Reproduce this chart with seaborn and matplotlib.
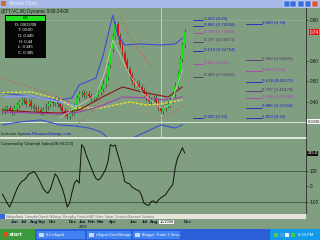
import matplotlib
matplotlib.use("Agg")
import matplotlib.pyplot as plt
from matplotlib.patches import Rectangle
import pandas as pd
import seaborn as sns

# ---------------- data ----------------
closes = [0.355, 0.365, 0.372, 0.36, 0.352, 0.37, 0.385, 0.40, 0.41, 0.405,
          0.39, 0.40, 0.38, 0.372, 0.365, 0.36, 0.352, 0.36, 0.378, 0.39,
          0.40, 0.395, 0.41, 0.39, 0.375, 0.355, 0.34, 0.33, 0.345, 0.35,
          0.38, 0.42, 0.44, 0.445, 0.435, 0.44, 0.43, 0.42, 0.425, 0.44,
          0.45, 0.465, 0.49, 0.52, 0.58, 0.66, 0.72, 0.78, 0.72, 0.68,
          0.64, 0.60, 0.56, 0.53, 0.50, 0.485, 0.49, 0.475, 0.46, 0.44,
          0.42, 0.405, 0.41, 0.42, 0.40, 0.37, 0.355, 0.37, 0.385, 0.39,
          0.41, 0.44, 0.48, 0.54, 0.61, 0.68, 0.74]

cci = [-50, -80, -110, -135, -100, -60, -20, 10, 30, 40,
       55, 80, 85, 95, 80, 50, 20, -15, -35, -45,
       -20, 30, 80, 60, 20, -15, -70, -135, -110, -40,
       20, 40, 20, 270, 250, 200, 160, 120, 80, 50,
       40, 55, 80, 110, 160, 270, 260, 268, 210, 160,
       100, 30, 20, 15, -5, -15, -25, -30, -60, -110,
       -120, -125, -100, -95, -110, -90, -75, -65, -55, -30,
       -10, 10, 120, 185, 215, 250, 215]

yellow_idx = [0, 12, 24, 30, 41, 53, 60, 66, 75]
yellow_val = [0.445, 0.449, 0.41, 0.371, 0.371, 0.40, 0.385, 0.39, 0.41]
lblue_idx = [0, 12, 24, 31]
lblue_val = [0.424, 0.429, 0.40, 0.38]
maroon_idx = [0, 12, 24, 32, 41, 50, 60, 69, 75]
maroon_val = [0.361, 0.351, 0.346, 0.361, 0.420, 0.473, 0.444, 0.424, 0.473]
purple_idx = [0, 12, 24, 32, 41, 50, 59, 67, 75]
purple_val = [0.351, 0.346, 0.341, 0.351, 0.380, 0.424, 0.420, 0.410, 0.424]
upper_idx = [0, 7, 16, 24, 29, 32, 39, 42, 45, 46, 48, 51, 57, 66, 72, 75]
upper_val = [0.444, 0.434, 0.420, 0.41, 0.42, 0.483, 0.517, 0.629, 0.776, 0.824,
             0.727, 0.678, 0.683, 0.678, 0.683, 0.712]
lower_idx = [0, 7, 16, 24, 30, 36, 41, 45, 51, 57, 66, 72, 75]
lower_val = [0.288, 0.302, 0.312, 0.288, 0.283, 0.273, 0.254, 0.215, 0.205, 0.239,
             0.288, 0.273, 0.288]
gray_idx = [24, 32, 39, 43, 46, 49, 53, 59, 66, 70, 75]
gray_val = [0.322, 0.385, 0.434, 0.556, 0.702, 0.629, 0.532, 0.434, 0.371, 0.385, 0.556]
sar_segments = [
    ([0, 7, 16, 24, 29], [0.517, 0.488, 0.454, 0.420, 0.395]),
    ([31, 36, 41, 43], [0.288, 0.337, 0.41, 0.468]),
    ([49, 52, 56, 60, 64], [0.829, 0.741, 0.663, 0.605, 0.556]),
    ([65, 70, 75], [0.312, 0.341, 0.380]),
]

fib_left_levels = ["1.000", "0.886", "0.786", "0.707", "0.618", "0.500", "0.382", "0.000"]
fib_left_prices = [0.80, 0.76958, 0.73658, 0.69471, 0.64754, 0.585, 0.52346, 0.32]
fib_right_levels = ["0.000", "0.382", "0.500", "0.618", "0.707", "0.786", "0.886", "1.000"]
fib_right_prices = [0.78, 0.60426, 0.55, 0.49572, 0.45478, 0.41844, 0.37244, 0.32]

price_ticks = [0.80, 0.60, 0.50, 0.40]
cci_ticks = [100, 0, -100]
month_labels = ["Jun", "Jul", "Aug", "Sep", "Oct", "Dec", "Jan", "Feb", "Mar", "Apr",
                "Jun", "Jul", "Aug", "Dec"]
month_pos = [5.2, 9.0, 13.2, 16.5, 21.0, 29.4, 33.6, 37.0, 40.7, 45.7, 54.8, 59.3, 63.2, 77.0]

info_lines = ["D: 09/22/08", "T: 00:00", "O: 0.345", "H: 0.44", "L: 0.345", "C: 0.385"]
crosshair_idx = 66
crosshair_price = 0.303

# ---------------- style ----------------
sns.set_theme(style="white")
plt.rcParams['font.family'] = ['Liberation Sans', 'DejaVu Sans']
SAGE = '#7f9f80'

fig = plt.figure(figsize=(3.2, 2.4), dpi=100, facecolor=SAGE)


def fx(px):
    return px / 320.0


def fy(py):
    return 1 - py / 240.0


def frect(x0, y0, x1, y1, color, z=1, **kw):
    fig.patches.append(Rectangle((fx(x0), fy(y1)), fx(x1) - fx(x0), fy(y0) - fy(y1),
                                 transform=fig.transFigure, facecolor=color,
                                 edgecolor=kw.get('ec', 'none'), lw=kw.get('lw', 0),
                                 zorder=z))


XMIN, XMAX = -1, 306 / 2.4 - 1
ax1 = fig.add_axes([0, fy(137), fx(306), fy(8) - fy(137)])
ax2 = fig.add_axes([0, fy(213), fx(306), fy(138.5) - fy(213)])
for ax in (ax1, ax2):
    ax.set_facecolor(SAGE)
    ax.set_xlim(XMIN, XMAX)
    for s in ('top', 'left', 'bottom'):
        ax.spines[s].set_visible(False)
    ax.spines['right'].set_color('#2a2a2a')
    ax.spines['right'].set_linewidth(0.6)
    ax.yaxis.tick_right()
    ax.tick_params(axis='y', labelsize=3.3, length=1.5, width=0.4, pad=1.5,
                   colors='#101010')

ax1.set_ylim(0.229, 0.8585)
ax2.set_ylim(-174, 310)

# ---------------- price panel ----------------
ax1.axhline(0.80, color='#93b094', lw=0.5, zorder=0)
ax1.axvline(crosshair_idx, color='#c9d6c6', lw=0.6, zorder=0.5)
ax1.axhline(crosshair_price, color='#dde6da', lw=0.7, zorder=0.5)

opens = [closes[0]] + closes[:-1]
wick = 0.015
for i, (o, c) in enumerate(zip(opens, closes)):
    lo, hi = min(o, c), max(o, c)
    ax1.vlines(i, lo - wick, hi + wick, color='#203020', lw=0.4, zorder=2)
    ax1.bar(i, max(hi - lo, 0.004), bottom=lo, width=0.75,
            color='#11e011' if c >= o else '#e01010', lw=0, zorder=3)

lines = [
    (upper_idx, upper_val, '#3a4fd8', 0.8, '-'),
    (lower_idx, lower_val, '#3a4fd8', 0.8, '-'),
    (lblue_idx, lblue_val, '#8c9ce8', 1.2, '-'),
    (yellow_idx, yellow_val, '#e8e030', 1.0, (0, (2, 1))),
    (maroon_idx, maroon_val, '#8a1616', 0.8, '-'),
    (purple_idx, purple_val, '#a040b0', 0.8, '-'),
    (gray_idx, gray_val, '#c8d0c0', 0.5, '-'),
]
for xs, ys, col, lw, ls in lines:
    sns.lineplot(x=xs, y=ys, ax=ax1, color=col, lw=lw, linestyle=ls,
                 estimator=None, sort=False, zorder=4)
for xs, ys in sar_segments:
    sns.lineplot(x=xs, y=ys, ax=ax1, color='#e04040', lw=0.8, linestyle=(0, (0.8, 2.2)),
                 estimator=None, sort=False, zorder=4)

fib_colors = {"1.000": '#2020c8', "0.886": '#2020c8', "0.618": '#2020c8', "0.000": '#2020c8',
              "0.786": '#b040b0', "0.500": '#b040b0', "0.707": '#583070', "0.382": '#583070'}


def pfmt(p):
    s = f"{p:.5f}".rstrip('0')
    if len(s.split('.')[1]) < 2:
        s = f"{p:.2f}"
    return s


def draw_fib(levels, prices, x0, x1):
    for lv, p in zip(levels, prices):
        col = fib_colors[lv]
        ax1.plot([x0, x1], [p, p], color=col, lw=0.6, zorder=4)
        ax1.text(x1 + 0.3, p + 0.006, f"{lv} ({pfmt(p)})", color=col, fontsize=3.2,
                 va='center', ha='left', zorder=5)


draw_fib(fib_left_levels, fib_left_prices, 79.4, 83.6)
draw_fib(fib_right_levels, fib_right_prices, 101.5, 108.0)

ax1.set_yticks(price_ticks)
ax1.set_yticklabels([f"{t:.2f}" for t in price_ticks])
ax1.set_xticks([])
ax1.set_ylabel('')
tr1 = ax1.get_yaxis_transform()
ax1.text(1.012, closes[-1], f"{closes[-1]:.2f}", transform=tr1, fontsize=3.3, color='white',
         va='center', ha='left', bbox=dict(boxstyle='square,pad=0.15', fc='#e01818', ec='none'),
         clip_on=False, zorder=6)
ax1.text(1.005, crosshair_price, f"{crosshair_price:.4f}", transform=tr1, fontsize=3.0,
         color='black', va='center', ha='left',
         bbox=dict(boxstyle='square,pad=0.1', fc='white', ec='none'), clip_on=False, zorder=6)

ax1.text(0.004, 0.245, "Indicator by ", fontsize=3.0, color='#203020', va='center',
         transform=ax1.get_yaxis_transform())
ax1.text(0.072, 0.245, "www.FibonacciSwings.com", fontsize=3.0, color='#1818c8',
         va='center', transform=ax1.get_yaxis_transform())

# ---------------- CCI panel ----------------
sns.lineplot(x=list(range(len(cci))), y=cci, ax=ax2, color='#101010', lw=0.7,
             estimator=None, sort=False, zorder=4)
ax2.axhline(100, color='#3f553f', lw=0.6, zorder=1)
ax2.axhline(-100, color='#3f553f', lw=0.6, zorder=1)
ax2.set_yticks(cci_ticks)
ax2.set_yticklabels([str(t) for t in cci_ticks])
ax2.set_ylabel('')
ax2.set_xticks(month_pos)
ax2.set_xticklabels(month_labels)
ax2.tick_params(axis='x', length=0, pad=5.0, labelsize=3.2, colors='#0c1830')
for lab in ax2.get_xticklabels():
    lab.set_fontweight('bold')
ax2.text(0.004, 0.93, "Commodity Channel Index(20,HLC/3)", transform=ax2.transAxes,
         fontsize=3.2, color='#101010', va='center')
ax2.text(1.005, cci[-1], f"{cci[-1]:.1f}", transform=ax2.get_yaxis_transform(),
         fontsize=3.0, color='white', va='center', ha='left',
         bbox=dict(boxstyle='square,pad=0.1', fc='#101010', ec='none'), clip_on=False, zorder=6)

# separator between panels
frect(0, 137, 306, 138.5, '#dfe6dc', z=5)

# ---------------- window chrome ----------------
frect(0, 0, 320, 7.5, '#a7b9e8', z=5)
frect(1, 1.5, 6, 6, '#d07030', z=6)
fig.text(fx(9), fy(3.9), "Weekly Chart", fontsize=3.3, color='#eef2ff', va='center', zorder=7)
for bx, col in zip([284, 290, 298, 305, 312], ['#3a6ee0', '#3a6ee0', '#3a6ee0', '#3a6ee0', '#d8553a']):
    frect(bx, 1, bx + 5.5, 6.5, col, z=6, ec='white', lw=0.3)
fig.text(fx(1), fy(11.5), "($TT-VC,W) Dynamic 0:00-24:00", fontsize=3.3, color='#101010',
         va='center', zorder=7)

# info box
frect(5, 15, 46, 58, '#050505', z=6)
frect(6, 16, 45, 20.5, '#22e022', z=7)
fig.text(fx(25.5), fy(18.3), "OK", fontsize=3.0, color='black', ha='center', va='center', zorder=8)
for k, ln in enumerate(info_lines):
    fig.text(fx(25.5), fy(24.5 + k * 5.7), ln, fontsize=3.0, color='white', ha='center',
             va='center', zorder=8)

# scroll bar
frect(0, 214, 306, 219, '#e6e4dc', z=5)
frect(0, 214, 5, 219, '#3a66d8', z=6)
fig.text(fx(6), fy(216.6), "BollingerBands  Commodity Channel  FibSwings  MovingAvg  ParabolicSAR  "
         "Keltner  Volume  Directional Movement  Stochastic",
         fontsize=1.9, color='#6a6a6a', va='center', zorder=7)

# date box & year
fig.text(fx(166.5), fy(222), "10/2008", fontsize=2.8, color='black', ha='center', va='center',
         bbox=dict(boxstyle='square,pad=0.1', fc='white', ec='none'), zorder=8)
fig.text(fx(83), fy(227.5), "2008", fontsize=2.8, color='#0c1830', ha='center', va='center',
         zorder=7)

# taskbar
frect(0, 229, 320, 240, '#2a5fd8', z=5)
frect(0, 229, 35, 240, '#3b9a3b', z=6)
fig.text(fx(9), fy(234.5), "start", fontsize=4.6, color='white', fontweight='bold',
         style='italic', va='center', zorder=8)
frect(3, 232, 7, 237, '#e05020', z=7)
for x0, x1, label in [(37, 85, "8:1 eSignal"), (87, 131, "eSignal Data Manager"),
                      (133, 180, "Blogger: Trader 1 Sess...")]:
    frect(x0, 230.5, x1, 239, '#3f82f0', z=6)
    fig.text(fx(x0 + 9), fy(234.8), label, fontsize=2.6, color='white', va='center', zorder=8)
    frect(x0 + 2, 232.5, x0 + 7, 237, '#c8d8f8', z=7)
frect(270, 229, 320, 240, '#129ae8', z=6)
for k, col in enumerate(['#60c060', '#40a0e0', '#f0f0f0', '#40d040']):
    frect(274 + k * 5.5, 232.5, 278 + k * 5.5, 237, col, z=7)
fig.text(fx(306), fy(234.6), "6:33 PM", fontsize=3.0, color='white', ha='center',
         va='center', zorder=8)

fig.savefig("out.png", dpi=100, facecolor=SAGE)
